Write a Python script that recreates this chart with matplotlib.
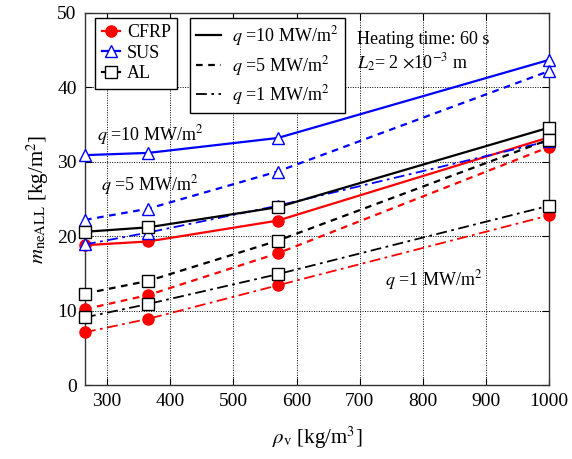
import matplotlib
matplotlib.use("Agg")
import matplotlib.pyplot as plt
from matplotlib.lines import Line2D

plt.rcParams['font.family'] = ['Liberation Serif', 'DejaVu Serif']
plt.rcParams['mathtext.fontset'] = 'stix'

# densidad del núcleo
rho = [265, 365, 570, 1000]

# CFRP
cfrp_q10 = [18.8, 19.3, 22.1, 33.3]
cfrp_q5 = [10.2, 12.1, 17.7, 32.0]
cfrp_q1 = [7.1, 8.9, 13.4, 22.8]
# SUS
sus_q10 = [30.9, 31.2, 33.2, 43.7]
sus_q5 = [22.2, 23.7, 28.7, 42.2]
sus_q1 = [18.9, 20.5, 24.1, 32.8]
# AL
al_q10 = [20.6, 21.2, 23.9, 34.6]
al_q5 = [12.3, 14.0, 19.4, 33.0]
al_q1 = [9.1, 10.9, 14.9, 24.1]

xticks = [300, 400, 500, 600, 700, 800, 900, 1000]
yticks = [0, 10, 20, 30, 40, 50]

fig = plt.figure(figsize=(5.72, 4.59), dpi=100)
ax = fig.add_axes([0.1486, 0.161, 0.8114, 0.8107])

dash = (0, (3, 2.5))
dashdot = (0, (6, 2.5, 1.5, 2.5))

# estilos por material
mats = [
    ("red", dict(marker="o", mfc="red", mec="red", ms=8), cfrp_q10, cfrp_q5, cfrp_q1),
    ("blue", dict(marker="^", mfc="white", mec="blue", ms=9, mew=1.0), sus_q10, sus_q5, sus_q1),
    ("black", dict(marker="s", mfc="white", mec="black", ms=8, mew=1.0), al_q10, al_q5, al_q1),
]
for color, mk, q10, q5, q1 in mats:
    ax.plot(rho, q10, color=color, lw=1.6, ls="-", clip_on=False, zorder=3, **mk)
    ax.plot(rho, q5, color=color, lw=1.6, ls=dash, clip_on=False, zorder=3, **mk)
    ax.plot(rho, q1, color=color, lw=1.3, ls=dashdot, clip_on=False, zorder=3, **mk)

ax.set_xlim(265, 1000)
ax.set_ylim(0, 50)
ax.set_xticks(xticks)
ax.set_yticks(yticks)
ax.grid(True, color="black", ls=(0, (1, 1.5)), lw=0.7)
ax.tick_params(direction="in", top=True, right=True, labelsize=14, length=5, pad=6)
for s in ax.spines.values():
    s.set_linewidth(1.0)
    s.set_color("#333333")

ax.set_xlabel(r"$\rho_{\rm v}$ [kg/m$^3$]", fontsize=15, labelpad=10)
ax.set_ylabel(r"$m_{\rm neALL}$ [kg/m$^2$]", fontsize=15, labelpad=4)

# leyenda de materiales
h1 = [
    Line2D([], [], color="red", marker="o", mfc="red", mec="red", ms=8, lw=1.6),
    Line2D([], [], color="blue", marker="^", mfc="white", mec="blue", ms=9, lw=1.6),
    Line2D([], [], color="black", marker="s", mfc="white", mec="black", ms=8, lw=1.6),
]
leg1 = ax.legend(h1, ["CFRP", "SUS", "AL"], loc="upper left", bbox_to_anchor=(0.022, 0.987),
                 borderaxespad=0, fontsize=13, handlelength=1.0, handletextpad=0.4, labelspacing=0.2,
                 borderpad=0.35, fancybox=False, framealpha=1, edgecolor="black")
leg1.get_frame().set_linewidth(1.0)
ax.add_artist(leg1)

# leyenda de flujo de calor
h2 = [
    Line2D([], [], color="black", lw=1.6, ls="-"),
    Line2D([], [], color="black", lw=1.6, ls=dash),
    Line2D([], [], color="black", lw=1.3, ls=dashdot),
]
lab2 = [r"$q$ =10 MW/m$^2$", r"$q$ =5 MW/m$^2$", r"$q$ =1 MW/m$^2$"]
leg2 = ax.legend(h2, lab2, loc="upper left", bbox_to_anchor=(0.226, 0.987),
                 borderaxespad=0, fontsize=13, handlelength=1.4, handletextpad=0.6, labelspacing=0.3,
                 borderpad=0.35, fancybox=False, framealpha=1, edgecolor="black")
leg2.get_frame().set_linewidth(1.0)

ax.text(0.585, 0.93, "Heating time: 60 s", transform=ax.transAxes, fontsize=13, va="center")
ax.text(0.585, 0.865, r"$L_2$= 2 $\times$10$^{-3}$ m", transform=ax.transAxes, fontsize=13, va="center")

ax.text(284, 33.6, r"$q$ =10 MW/m$^2$", fontsize=13, va="center")
ax.text(290, 26.9, r"$q$ =5 MW/m$^2$", fontsize=13, va="center")
ax.text(740, 14.1, r"$q$ =1 MW/m$^2$", fontsize=13, va="center")

fig.savefig("out.png", dpi=100)
